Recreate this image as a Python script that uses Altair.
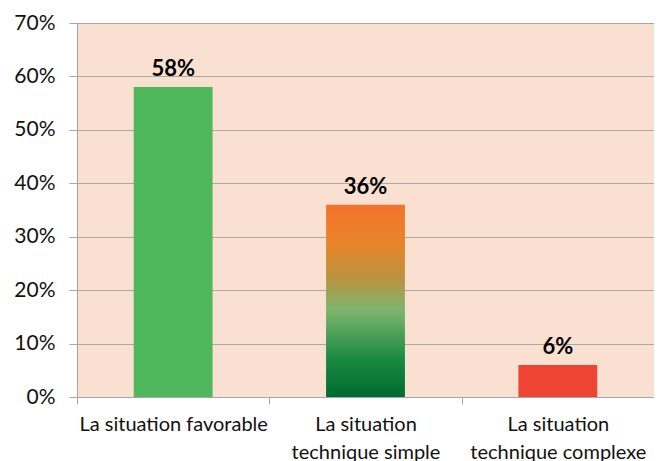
import altair as alt
import pandas as pd

categories = ["La situation favorable", "La situation technique simple", "La situation technique complexe"]
values = [0.58, 0.36, 0.06]
labels = ["58%", "36%", "6%"]
kinds = ["green", "gradient", "red"]
y_ticks = [0, 0.1, 0.2, 0.3, 0.4, 0.5, 0.6, 0.7]

df = pd.DataFrame({"cat": categories, "val": values, "lab": labels, "kind": kinds})

FONT = "Lato"

x_enc = alt.X(
    "cat:N",
    sort=categories,
    title=None,
    scale=alt.Scale(paddingInner=0, paddingOuter=0),
    axis=alt.Axis(
        labelAngle=0,
        labelFont=FONT,
        labelFontSize=20,
        labelColor="#111111",
        labelPadding=10,
        labelLineHeight=28,
        labelBaseline="top",
        labelLimit=400,
        labelOverlap=False,
        tickBand="extent",
        tickSize=7,
        tickColor="#a6a6a6",
        domainColor="#a6a6a6",
        grid=False,
        labelExpr="!datum.label ? '' : (datum.label == 'La situation favorable' ? datum.label : ['La situation', substring(datum.label, 13)])",
    ),
)
y_enc = alt.Y(
    "val:Q",
    title=None,
    scale=alt.Scale(domain=[0, 0.7], nice=False),
    axis=alt.Axis(
        values=y_ticks,
        format=".0%",
        labelFont=FONT,
        labelFontSize=21,
        labelColor="#111111",
        labelPadding=14,
        tickSize=8,
        tickColor="#a6a6a6",
        domainColor="#a6a6a6",
        gridColor="#a8a8a8",
        gridWidth=1,
    ),
)

base = alt.Chart(df)

solid = base.transform_filter("datum.kind != 'gradient'").mark_bar(
    width=alt.RelativeBandSize(0.41)
).encode(
    x=x_enc,
    y=y_enc,
    color=alt.Color(
        "kind:N",
        scale=alt.Scale(domain=["green", "red"], range=["#4fb85d", "#ee4432"]),
        legend=None,
    ),
)

grad = base.transform_filter("datum.kind == 'gradient'").mark_bar(
    width=alt.RelativeBandSize(0.41),
    color=alt.LinearGradient(
        gradient="linear",
        x1=0, y1=0, x2=0, y2=1,
        stops=[
            alt.GradientStop(offset=0, color="#f2732b"),
            alt.GradientStop(offset=0.2, color="#e8852a"),
            alt.GradientStop(offset=0.38, color="#bb923f"),
            alt.GradientStop(offset=0.55, color="#7db56f"),
            alt.GradientStop(offset=0.8, color="#1a8a40"),
            alt.GradientStop(offset=1, color="#006a33"),
        ],
    ),
).encode(x=x_enc, y=y_enc)

text = base.mark_text(
    font=FONT, fontSize=22, fontWeight="bold", color="#000000", baseline="bottom", dy=-6
).encode(x=alt.X("cat:N", sort=categories), y="val:Q", text="lab:N")

chart = alt.layer(solid, grad, text).properties(
    width=577,
    height=374,
    autosize=alt.AutoSizeParams(type="none"),
    padding={"left": 69, "top": 15, "right": 0, "bottom": 64},
    background="white",
).configure_view(fill="#fae0d1", stroke=None)

chart.save("out.html", embed_options={"renderer": "svg", "actions": False})
